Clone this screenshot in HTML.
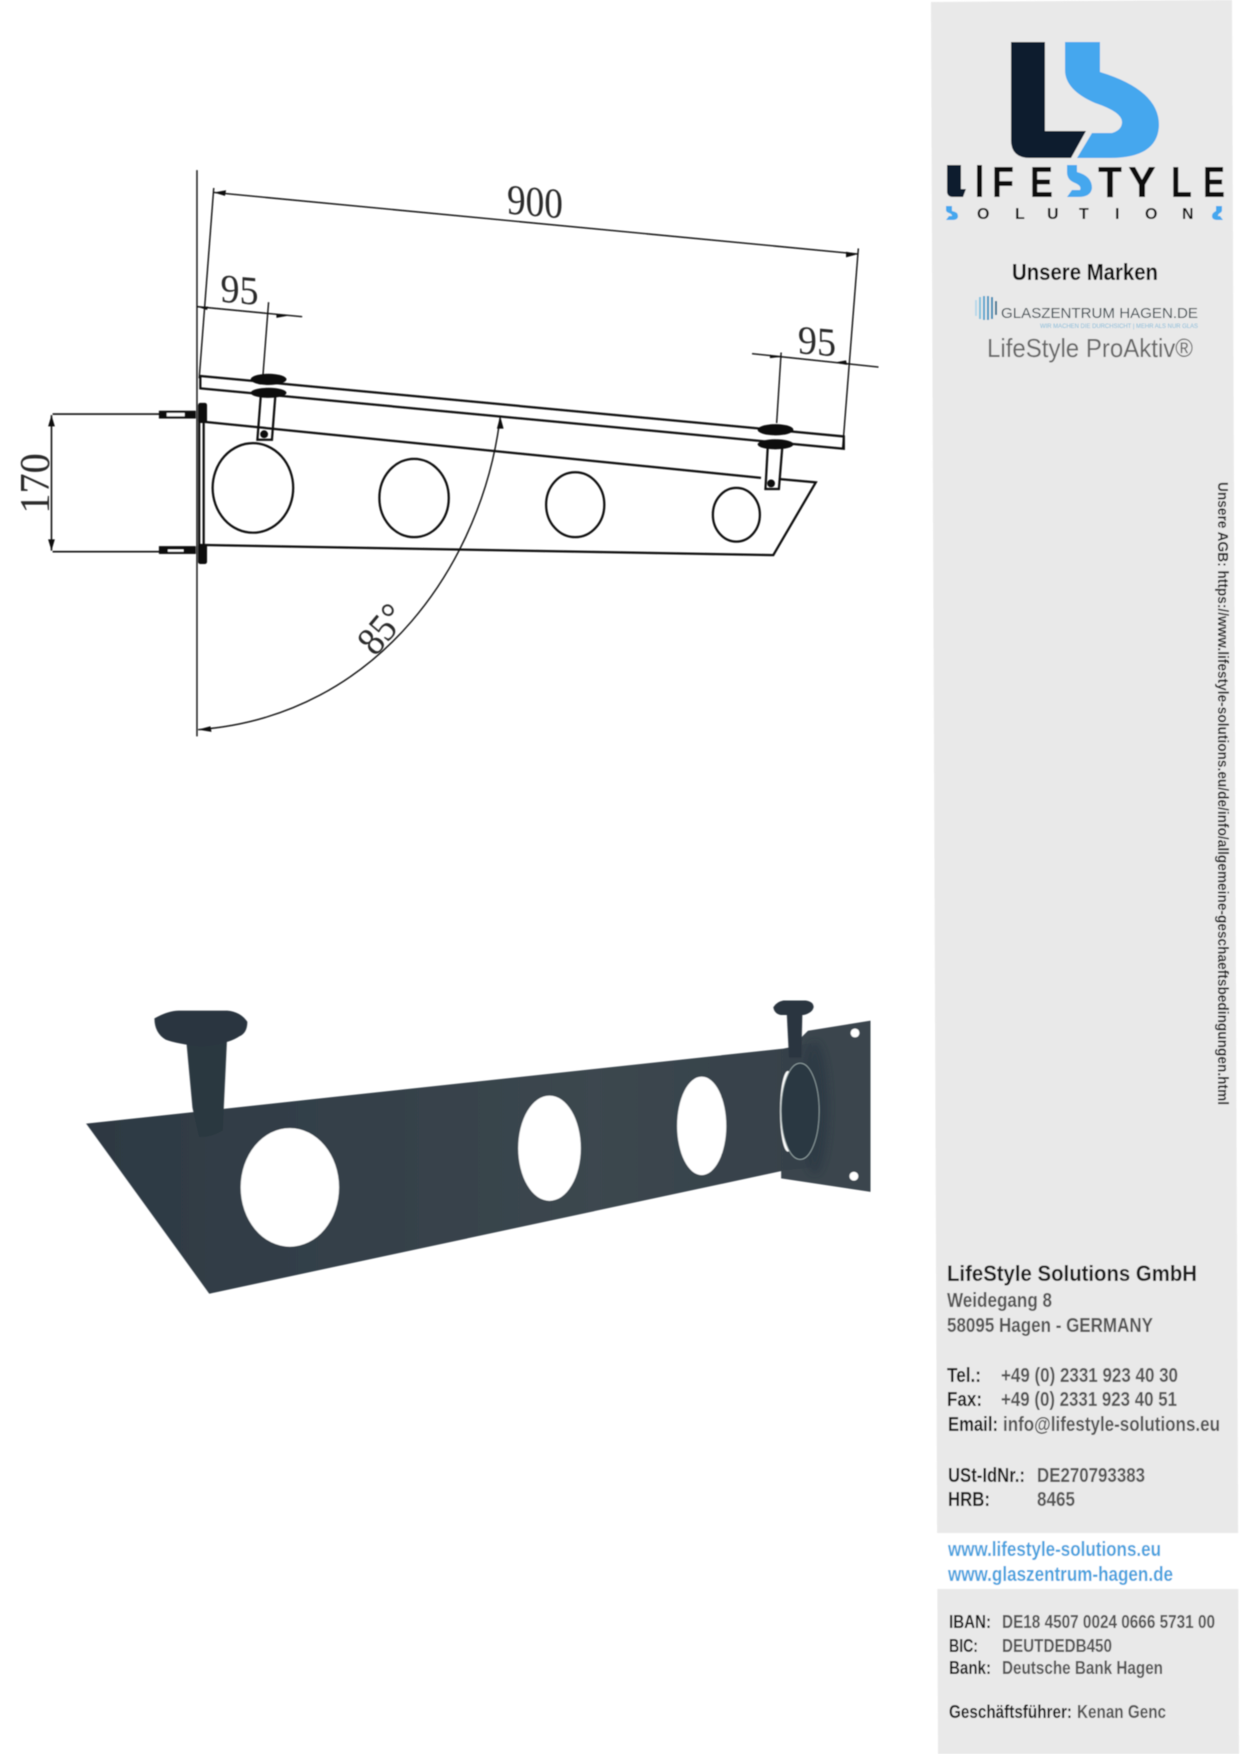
<!DOCTYPE html>
<html><head><meta charset="utf-8"><style>
html,body{margin:0;padding:0;background:#fff}
svg{display:block}
text{font-family:"Liberation Sans",sans-serif}
.b{font-weight:bold}
.k{fill:#1c1c1c;font-weight:bold;font-size:20px}
.g{fill:#555;font-weight:bold;font-size:20px}
.d{font-family:"Liberation Serif",serif;fill:#2a2a2a}
</style></head><body>
<svg xmlns="http://www.w3.org/2000/svg" width="1240" height="1754" viewBox="0 0 1240 1754">
<defs>
<filter id="s" x="0" y="0" width="100%" height="100%"><feGaussianBlur stdDeviation="0.45"/></filter>
<filter id="h" x="-30%" y="-30%" width="160%" height="160%"><feGaussianBlur stdDeviation="3"/></filter>
<linearGradient id="m" x1="0" x2="1" y1="0" y2="0"><stop offset="0" stop-color="#2d3943"/><stop offset=".7" stop-color="#3c474f"/><stop offset="1" stop-color="#36414a"/></linearGradient>
</defs>
<rect width="1240" height="1754" fill="#fff"/>
<g filter="url(#s)">
<g transform="scale(1.1191)">
<g fill="none" stroke="#111" stroke-width="1.25">
<path d="M176 152V658"/>
<path d="M191 168L178 338M767 222L753 400"/>
<path d="M191 172L767 227"/>
<path d="M176 274L270 283M240 270L235 335"/>
<path d="M672 316L785 328M698 315L694 378"/>
<path d="M447 372C432 500 340 640 177 652"/>
<path d="M47 370H145M47 493H145M46 371V492" stroke-width="1.4"/>
</g>
<g fill="#111">
<path d="M191 172l11-2-1 5zM767 227l-11-2 0 5zM176 274l10 0-1 3zM258 282l-11-1 0 3zM698 319l-10-2 0 3zM745 324l12 2-1-4zM447 372l-3 11 6 0zM46 371l-3 10 6 0zM46 492l-3-10 6 0zM177 652l11-3 1 5z"/>
</g>
<g fill="none" stroke="#111" stroke-width="2">
<path d="M179 336L754 390V401L179 347Z"/>
<path d="M183 377L680 427M696 428L729 431L691 496L183 487"/>
<ellipse cx="226" cy="436" rx="36" ry="40"/>
<ellipse cx="370" cy="445" rx="31" ry="35"/>
<ellipse cx="514" cy="451" rx="26" ry="29"/>
<ellipse cx="658" cy="460" rx="21" ry="24"/>
<path d="M233 354L230 393H243L246 354M686 400L684 437H696L699 400"/>
<path d="M178 362V503M182 362V503" stroke-width="2"/>
</g>
<g fill="#111">
<ellipse cx="240" cy="339" rx="16" ry="5"/><ellipse cx="240" cy="351" rx="16" ry="4.5"/>
<ellipse cx="693" cy="384" rx="16" ry="5"/><ellipse cx="693" cy="397" rx="16" ry="4.5"/>
<circle cx="236" cy="388" r="3.5"/><circle cx="689" cy="432" r="3.5"/>
<rect x="142" y="367" width="33" height="7"/><rect x="142" y="488" width="33" height="7"/>
<rect x="177" y="360" width="8" height="18" rx="2"/><rect x="177" y="486" width="8" height="18" rx="2"/>
</g>
<rect x="149" y="369" width="16" height="3" fill="#fff"/><rect x="150" y="491" width="14" height="2" fill="#fff"/>
<g transform="translate(478 193) skewY(5)"><text class="d" font-size="38" text-anchor="middle" textLength="50" lengthAdjust="spacingAndGlyphs">900</text></g>
<g transform="translate(214 271) skewY(5)"><text class="d" font-size="36" text-anchor="middle" textLength="34" lengthAdjust="spacingAndGlyphs">95</text></g>
<g transform="translate(730 317) skewY(5)"><text class="d" font-size="36" text-anchor="middle" textLength="34" lengthAdjust="spacingAndGlyphs">95</text></g>
<text class="d" font-size="38" x="44" y="432" text-anchor="middle" transform="rotate(-90 44 432)" textLength="54" lengthAdjust="spacingAndGlyphs">170</text>
<text class="d" font-size="36" x="341" y="574" text-anchor="middle" transform="rotate(-50 341 562)" textLength="46" lengthAdjust="spacingAndGlyphs">85°</text>

<!-- photo -->
<path d="M722 921L778 912V1065L698 1053V945Z" fill="#3a454d"/>
<path d="M77 1004L700 937L725 932L725 1043L700 1046L187 1156Z" fill="url(#m)"/>
<ellipse cx="728" cy="990" rx="12" ry="58" fill="#2c3842" opacity=".7" filter="url(#h)"/>
<ellipse cx="259" cy="1061" rx="44" ry="53" fill="#fff"/>
<ellipse cx="491" cy="1026" rx="28" ry="47" fill="#fff"/>
<ellipse cx="627" cy="1006" rx="22" ry="44" fill="#fff"/>
<ellipse cx="704" cy="993" rx="7" ry="36" fill="#fff"/>
<ellipse cx="715" cy="993" rx="17" ry="43" fill="#2c3842" stroke="#9aa" stroke-width=".8"/>
<circle cx="764" cy="923" r="4" fill="#fff"/><circle cx="763" cy="1051" r="4" fill="#fff"/>
<path d="M166 925L203 925L199 1010Q190 1016 178 1016L172 990Z" fill="#2c3740"/>
<path d="M138 910Q150 903 160 903H203Q215 904 221 913Q221 923 214 926Q204 933 180 935Q158 933 148 929Q138 923 138 910Z" fill="#2b363f"/>
<path d="M703 905H717L716 945H705Z" fill="#2b363f"/>
<path d="M691 900Q694 895 700 894H720Q727 895 727 900Q726 905 718 907H698Q692 906 691 900Z" fill="#2b363f"/>
</g>

<!-- sidebar -->
<path d="M931 2L1232 0L1239 1754H938Z" fill="#e9e9e9"/>
<rect x="937" y="1533" width="303" height="56" fill="#fff"/>

<!-- logo -->
<path d="M1011 42H1045V131H1086L1071 158H1030Q1011 158 1011 140Z" fill="#0d1a2d"/>
<path d="M1065 42H1100V72Q1159 90 1159 125Q1158 158 1110 158H1077L1092 133H1112Q1122 130 1122 122Q1122 112 1095 103Q1065 90 1065 70Z" fill="#45a7ee"/>
<g class="b" font-size="44" fill="#111">
<path d="M947 165H961V189H966L963 197H953Q947 197 947 191Z" fill="#0d1a2d"/>
<rect x="977" y="165" width="5" height="32"/>
<text x="992" y="197" textLength="22" lengthAdjust="spacingAndGlyphs">F</text>
<text x="1030" y="197" textLength="23" lengthAdjust="spacingAndGlyphs">E</text>
<path d="M1067 165H1077V172Q1092 176 1092 188Q1091 197 1078 197H1067L1072 190H1080Q1082 186 1075 183Q1067 180 1067 172Z" fill="#45a7ee"/>
<text x="1098" y="197" textLength="24" lengthAdjust="spacingAndGlyphs">T</text>
<text x="1128" y="197" textLength="28" lengthAdjust="spacingAndGlyphs">Y</text>
<text x="1171" y="197" textLength="21" lengthAdjust="spacingAndGlyphs">L</text>
<text x="1203" y="197" textLength="22" lengthAdjust="spacingAndGlyphs">E</text>
</g>
<g class="b" font-size="16" fill="#111">
<path d="M946 206H952V211Q958 212 958 216Q958 220 952 220H946L949 216H952Q952 214 949 213Q946 212 946 210Z" fill="#45a7ee"/>
<text x="977" y="219">O</text><text x="1015" y="219">L</text><text x="1047" y="219">U</text><text x="1079" y="219">T</text><text x="1115" y="219">I</text><text x="1145" y="219">O</text><text x="1182" y="219">N</text>
<path d="M1222 206H1216V211Q1212 213 1212 216Q1212 220 1218 220H1223L1220 216H1218Q1218 214 1220 213Q1222 212 1222 210Z" fill="#45a7ee"/>
</g>
<text class="b" x="1012" y="280" font-size="23" fill="#111" textLength="146" lengthAdjust="spacingAndGlyphs">Unsere Marken</text>

<g fill="none" stroke-width="2">
<path d="M976 300V316" stroke="#b7d9ea"/><path d="M980 297V319" stroke="#7cc0dd"/><path d="M984 296V320" stroke="#4ba3cd"/><path d="M988 296V320" stroke="#3c96c2"/><path d="M992 297V319" stroke="#2f88b5"/><path d="M996 301V315" stroke="#2f6f90"/>
</g>
<text x="1001" y="318" font-size="15" fill="#3e4a50" textLength="197" lengthAdjust="spacingAndGlyphs">GLASZENTRUM HAGEN.DE</text>
<text x="1040" y="328" font-size="6" fill="#7fb9d8" textLength="158" lengthAdjust="spacingAndGlyphs">WIR MACHEN DIE DURCHSICHT | MEHR ALS NUR GLAS</text>
<text x="987" y="357" font-size="26" fill="#666" textLength="206" lengthAdjust="spacingAndGlyphs">LifeStyle ProAktiv®</text>

<text class="b" x="1218" y="482" font-size="14.5" fill="#222" transform="rotate(90 1218 482)" textLength="623" lengthAdjust="spacingAndGlyphs">Unsere AGB: https://www.lifestyle-solutions.eu/de/info/allgemeine-geschaeftsbedingungen.html</text>

<text x="947" y="1281" class="k" style="font-size:22px" textLength="250" lengthAdjust="spacingAndGlyphs">LifeStyle Solutions GmbH</text>
<text x="947" y="1307" class="g" textLength="105" lengthAdjust="spacingAndGlyphs">Weidegang 8</text>
<text x="947" y="1332" class="g" textLength="206" lengthAdjust="spacingAndGlyphs">58095 Hagen - GERMANY</text>
<text x="947" y="1382" class="k" textLength="34" lengthAdjust="spacingAndGlyphs">Tel.:</text>
<text x="1001" y="1382" class="g" textLength="177" lengthAdjust="spacingAndGlyphs">+49 (0) 2331 923 40 30</text>
<text x="947" y="1406" class="k" textLength="35" lengthAdjust="spacingAndGlyphs">Fax:</text>
<text x="1001" y="1406" class="g" textLength="176" lengthAdjust="spacingAndGlyphs">+49 (0) 2331 923 40 51</text>
<text x="948" y="1431" class="k" textLength="50" lengthAdjust="spacingAndGlyphs">Email:</text>
<text x="1003" y="1431" class="g" textLength="217" lengthAdjust="spacingAndGlyphs">info@lifestyle-solutions.eu</text>
<text x="948" y="1482" class="k" textLength="77" lengthAdjust="spacingAndGlyphs">USt-IdNr.:</text>
<text x="1037" y="1482" class="g" textLength="108" lengthAdjust="spacingAndGlyphs">DE270793383</text>
<text x="948" y="1506" class="k" textLength="42" lengthAdjust="spacingAndGlyphs">HRB:</text>
<text x="1037" y="1506" class="g" textLength="38" lengthAdjust="spacingAndGlyphs">8465</text>
<text x="948" y="1556" class="b" font-size="20" fill="#4aa3df" textLength="213" lengthAdjust="spacingAndGlyphs">www.lifestyle-solutions.eu</text>
<text x="948" y="1581" class="b" font-size="20" fill="#4aa3df" textLength="225" lengthAdjust="spacingAndGlyphs">www.glaszentrum-hagen.de</text>
<text x="949" y="1628" class="k" style="font-size:18px" textLength="42" lengthAdjust="spacingAndGlyphs">IBAN:</text>
<text x="1002" y="1628" class="g" style="font-size:18px" textLength="213" lengthAdjust="spacingAndGlyphs">DE18 4507 0024 0666 5731 00</text>
<text x="949" y="1652" class="k" style="font-size:18px" textLength="29" lengthAdjust="spacingAndGlyphs">BIC:</text>
<text x="1002" y="1652" class="g" style="font-size:18px" textLength="110" lengthAdjust="spacingAndGlyphs">DEUTDEDB450</text>
<text x="949" y="1674" class="k" style="font-size:18px" textLength="42" lengthAdjust="spacingAndGlyphs">Bank:</text>
<text x="1002" y="1674" class="g" style="font-size:18px" textLength="161" lengthAdjust="spacingAndGlyphs">Deutsche Bank Hagen</text>
<text x="949" y="1718" class="k" style="font-size:18px" textLength="123" lengthAdjust="spacingAndGlyphs">Geschäftsführer:</text>
<text x="1077" y="1718" class="g" style="font-size:18px" textLength="89" lengthAdjust="spacingAndGlyphs">Kenan Genc</text>
</g>
</svg>
</body></html>
